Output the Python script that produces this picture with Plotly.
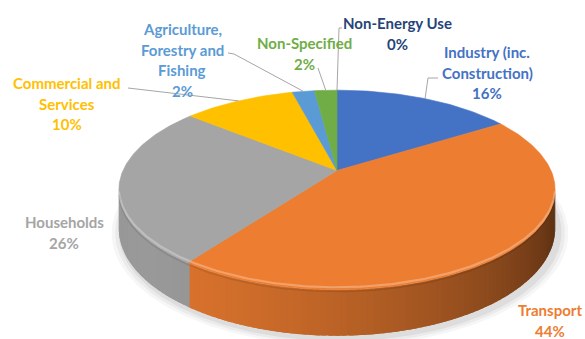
import numpy as np
import plotly.graph_objects as go

# Final energy consumption shares by sector (%), clockwise from 12 o'clock
categories = [
    "Non-Energy Use",
    "Industry (inc. Construction)",
    "Transport",
    "Households",
    "Commercial and Services",
    "Agriculture, Forestry and Fishing",
    "Non-Specified",
]
shares = [0, 16, 44, 26, 10, 2, 2]
slice_colors = ["#264478", "#4472C4", "#ED7D31", "#A5A5A5", "#FFC000", "#5B9BD5", "#70AD47"]

# How each category name is broken over lines in its data label
label_lines = [
    ["Non-Energy Use"],
    ["Industry (inc.", "Construction)"],
    ["Transport"],
    ["Households"],
    ["Commercial and", "Services"],
    ["Agriculture,", "Forestry and", "Fishing"],
    ["Non-Specified"],
]

# ---- layout of the tilted (perspective) pie, in pixel units ----
W, H_PX = 585, 339
CX, CY = 337.0, 170.5      # projected centre of the top face
A, B = 214.0, 96.0         # horizontal / vertical half-axes
P = 0.195                  # perspective strength (near side larger)
DEPTH = 37.0               # thickness of the pie

# label placement: (centre x, y of first line) and leader-line paths
label_pos = {
    "Non-Energy Use": (397, 23),
    "Industry (inc. Construction)": (487, 52),
    "Transport": (550, 310),
    "Households": (64, 222),
    "Commercial and Services": (67, 83),
    "Agriculture, Forestry and Fishing": (182, 29),
    "Non-Specified": (304, 43),
}
LINE_STEP = 20.6
leader_start = {
    "Non-Energy Use": [(342, 28), (339, 28)],
    "Industry (inc. Construction)": [(438, 78), (428, 78)],
    "Commercial and Services": [(128, 88)],
    "Agriculture, Forestry and Fishing": [(228, 53), (234, 54)],
    "Non-Specified": [(318, 68)],
}


def proj(theta_deg, drop=0.0, scale=1.0):
    """Project a point of the pie rim (angle clockwise from 12 o'clock)."""
    t = np.radians(theta_deg)
    x3, z3 = np.sin(t) * scale, np.cos(t) * scale
    w = 1.0 + P * z3
    return CX + A * x3 / w, CY - B * z3 / w + drop / w


def shade(hex_color, f):
    h = hex_color.lstrip("#")
    r, g, b = (int(h[i:i + 2], 16) for i in (0, 2, 4))
    return "rgb({},{},{})".format(int(r * f), int(g * f), int(b * f))


bounds = np.concatenate([[0.0], np.cumsum(shares)]) * 3.6

fig = go.Figure()

# soft drop shadow under the pie
for k, alpha in [(0.045, 0.035), (0.03, 0.045), (0.015, 0.06)]:
    th = np.linspace(0, 360, 361)
    sx, sy = proj(th, DEPTH, 1 + k)
    fig.add_trace(go.Scatter(x=sx + 3, y=sy + 3, fill="toself", mode="lines",
                             line=dict(width=0), fillcolor="rgba(0,0,0,{})".format(alpha),
                             hoverinfo="skip", showlegend=False))

# visible side wall (between the two silhouette angles); each strip overlaps
# the next one a little so no seams show between them
sil = np.degrees(np.arccos(-P))
th_lo, th_hi = sil, 360 - sil
edges = np.linspace(th_lo, th_hi, 110)
step = edges[1] - edges[0]
for a0, a1 in zip(edges[:-1], edges[1:]):
    mid = 0.5 * (a0 + a1)
    idx = int(np.searchsorted(bounds, mid, side="right") - 1)
    idx = min(max(idx, 0), len(shares) - 1)
    # keep strips inside their own slice so colour changes stay crisp
    hi = min(a1 + 0.8 * step, bounds[idx + 1], th_hi)
    f = 0.6 + 0.33 * np.cos(np.radians(mid - 235))
    col = shade(slice_colors[idx], f)
    seg = np.linspace(a0, hi, 3)
    tx, ty = proj(seg)
    bx, by = proj(seg[::-1], DEPTH)
    fig.add_trace(go.Scatter(x=np.r_[tx, bx], y=np.r_[ty, by], fill="toself", mode="none",
                             fillcolor=col, hoverinfo="skip", showlegend=False))

# top face slices
for name, v, col, t0, t1 in zip(categories, shares, slice_colors, bounds[:-1], bounds[1:]):
    if v <= 0:
        continue
    arc = np.linspace(t0, t1, max(int((t1 - t0) / 0.8), 2) + 1)
    ax_, ay_ = proj(arc)
    fig.add_trace(go.Scatter(x=np.r_[CX, ax_, CX], y=np.r_[CY, ay_, CY], fill="toself",
                             mode="lines", line=dict(width=0.6, color=col), fillcolor=col,
                             name=name, hoverinfo="name", showlegend=False))

# bevel highlight along the front rim
rim = np.linspace(th_lo + 2, th_hi - 2, 200)
rx, ry = proj(rim, -2.0)
fig.add_trace(go.Scatter(x=rx, y=ry, mode="lines", line=dict(width=2.2, color="rgba(255,255,255,0.28)"),
                         hoverinfo="skip", showlegend=False))
rx, ry = proj(rim, 1.5)
fig.add_trace(go.Scatter(x=rx, y=ry, mode="lines", line=dict(width=1.5, color="rgba(0,0,0,0.10)"),
                         hoverinfo="skip", showlegend=False))

# leader lines from labels to the middle of their slice rim
for name, t0, t1 in zip(categories, bounds[:-1], bounds[1:]):
    if name not in leader_start:
        continue
    ex, ey = proj(0.5 * (t0 + t1))
    pts = leader_start[name] + [(ex, ey)]
    fig.add_trace(go.Scatter(x=[p[0] for p in pts], y=[p[1] for p in pts], mode="lines",
                             line=dict(width=1, color="#A6A6A6"), hoverinfo="skip", showlegend=False))

# data labels: category name + share
for name, v, col, lines in zip(categories, shares, slice_colors, label_lines):
    x0, y0 = label_pos[name]
    for i, txt in enumerate(lines + ["{}%".format(v)]):
        fig.add_annotation(x=x0, y=y0 + i * LINE_STEP, text=txt, showarrow=False,
                           xanchor="center", yanchor="middle",
                           font=dict(family="Lato, Carlito, sans-serif", size=15,
                                     color=col, weight="bold"))

fig.update_xaxes(range=[0, W], visible=False, fixedrange=True)
fig.update_yaxes(range=[H_PX, 0], visible=False, fixedrange=True)
fig.update_layout(width=W, height=H_PX, margin=dict(l=0, r=0, t=0, b=0),
                  paper_bgcolor="white", plot_bgcolor="white", showlegend=False)

fig.write_html("out.html")
